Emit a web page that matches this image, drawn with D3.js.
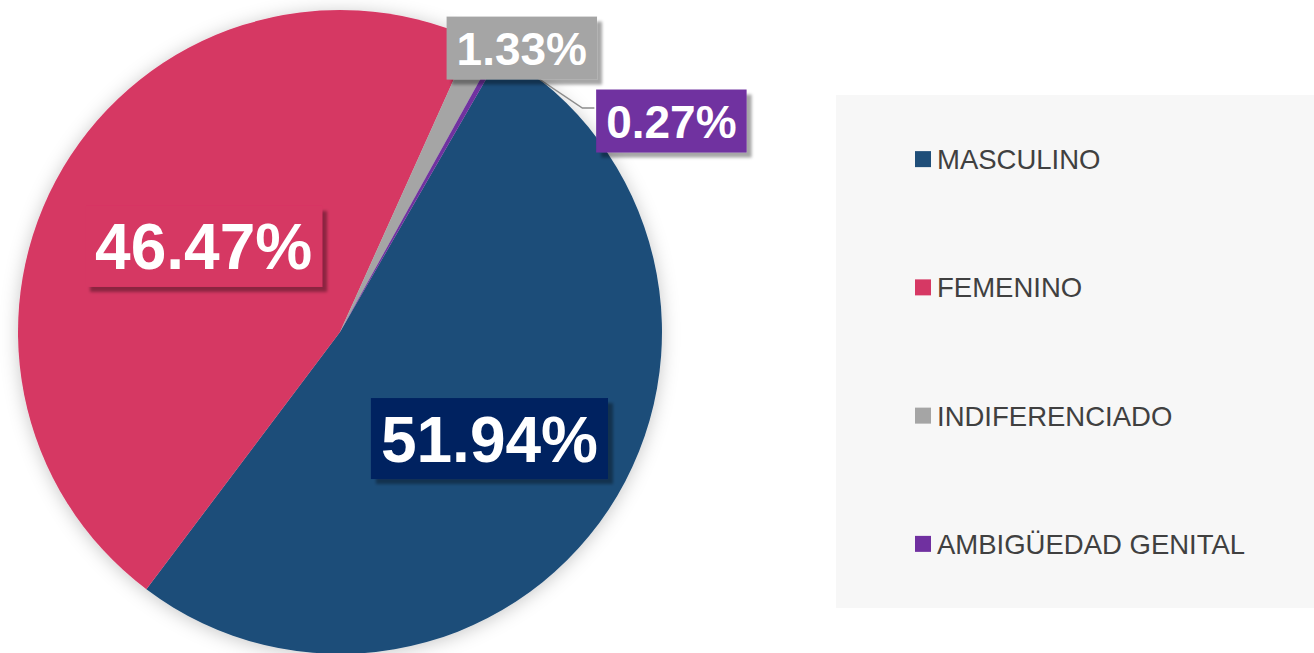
<!DOCTYPE html>
<html>
<head>
  <meta charset="utf-8">
  <title>Sexo</title>
  <style>
    body { margin: 0; background: #fff; }
    svg { display: block; font-family: "Liberation Sans", Arial, sans-serif; }
  </style>
</head>
<body>
  <svg id="chart"></svg>

  <script src="https://d3js.org/d3.v7.min.js"></script>
  <script>
    // data
    const categories = ['MASCULINO', 'FEMENINO', 'INDIFERENCIADO', 'AMBIGÜEDAD GENITAL'];
    const values = [51.94, 46.47, 1.33, 0.27];
    const labels = ['51.94%', '46.47%', '1.33%', '0.27%'];

    const colors = ['#1f4e79', '#d63864', '#a5a5a5', '#7030a0'];
    const boxColors = ['#002060', '#d63864', '#a5a5a5', '#7030a0'];

    const width = 1314, height = 653;
    const cx = 340, cy = 332, radius = 322;

    const svg = d3.select('#chart').attr('width', width).attr('height', height);

    const defs = svg.append('defs');
    defs.append('filter').attr('id', 'glow')
      .attr('x', '-20%').attr('y', '-20%').attr('width', '140%').attr('height', '140%')
      .append('feDropShadow')
      .attr('dx', 0).attr('dy', 2).attr('stdDeviation', 9)
      .attr('flood-color', '#000').attr('flood-opacity', 0.22);
    defs.append('filter').attr('id', 'boxShadow')
      .attr('x', '-10%').attr('y', '-10%').attr('width', '130%').attr('height', '140%')
      .append('feDropShadow')
      .attr('dx', 5).attr('dy', 5).attr('stdDeviation', 1.6)
      .attr('flood-color', '#000').attr('flood-opacity', 0.35);

    // legend background (drawn first, sits at the right)
    const legendY = d3.scaleBand().domain(categories).range([95, 608]);
    svg.append('rect')
      .attr('x', 836).attr('y', 95)
      .attr('width', width - 836).attr('height', 513)
      .attr('fill', '#f7f7f7');

    const legend = svg.append('g').selectAll('g')
      .data(categories)
      .join('g')
      .attr('transform', d => `translate(915, ${legendY(d) + legendY.bandwidth() / 2})`);
    legend.append('rect')
      .attr('x', 0).attr('y', -8).attr('width', 16).attr('height', 16)
      .attr('fill', (d, i) => colors[i]);
    legend.append('text')
      .attr('x', 22).attr('y', 10)
      .attr('font-size', 27.5)
      .attr('fill', '#404040')
      .text(d => d);

    // pie
    const pie = d3.pie()
      .sort(null)
      .startAngle(30 * Math.PI / 180)
      .endAngle(390 * Math.PI / 180);
    const arcs = pie(values);
    const arc = d3.arc().innerRadius(0).outerRadius(radius);

    const g = svg.append('g').attr('transform', `translate(${cx}, ${cy})`);
    g.append('g').attr('filter', 'url(#glow)')
      .selectAll('path')
      .data(arcs)
      .join('path')
      .attr('d', arc)
      .attr('fill', (d, i) => colors[i]);

    // label placement: radius factor and angle shift (degrees) from slice middle
    const placeR = [0.57, 0.5, 1.047, 1.22];
    const placeShift = [2, 1.5, 6, 28];
    const fontSizes = [64, 64, 46, 46];

    function labelPos(d, i) {
      const a = (d.startAngle + d.endAngle) / 2 + placeShift[i] * Math.PI / 180;
      const r = radius * placeR[i];
      return [Math.sin(a) * r, -Math.cos(a) * r];
    }

    // leader line for the smallest slice
    const small = arcs[3];
    const midA = (small.startAngle + small.endAngle) / 2;
    const p0 = [Math.sin(midA) * radius, -Math.cos(midA) * radius];
    const lp = labelPos(small, 3);
    const boxLeft = lp[0] - 77;
    const elbow = [boxLeft - 12, lp[1] - 13];
    g.append('path')
      .attr('d', d3.line()([p0, elbow, [boxLeft, elbow[1]]]))
      .attr('fill', 'none')
      .attr('stroke', '#8c8c8c')
      .attr('stroke-width', 1.5);

    // data labels (draw the small ones last so 1.33% covers the leader start)
    const order = [0, 1, 3, 2];
    order.forEach(i => {
      const d = arcs[i];
      const [x, y] = labelPos(d, i);
      const fs = fontSizes[i];
      const lg = g.append('g').attr('transform', `translate(${x}, ${y})`);
      const rect = lg.append('rect').attr('fill', boxColors[i]).attr('filter', 'url(#boxShadow)');
      const t = lg.append('text')
        .attr('text-anchor', 'middle')
        .attr('y', fs * 0.36)
        .attr('font-size', fs)
        .attr('font-weight', 'bold')
        .attr('fill', '#fff')
        .text(labels[i]);
      const bb = t.node().getBBox();
      const padX = 10, h = fs + 17;
      rect.attr('x', bb.x - padX).attr('y', -h / 2)
        .attr('width', bb.width + 2 * padX).attr('height', h);
    });
  </script>
</body>
</html>
